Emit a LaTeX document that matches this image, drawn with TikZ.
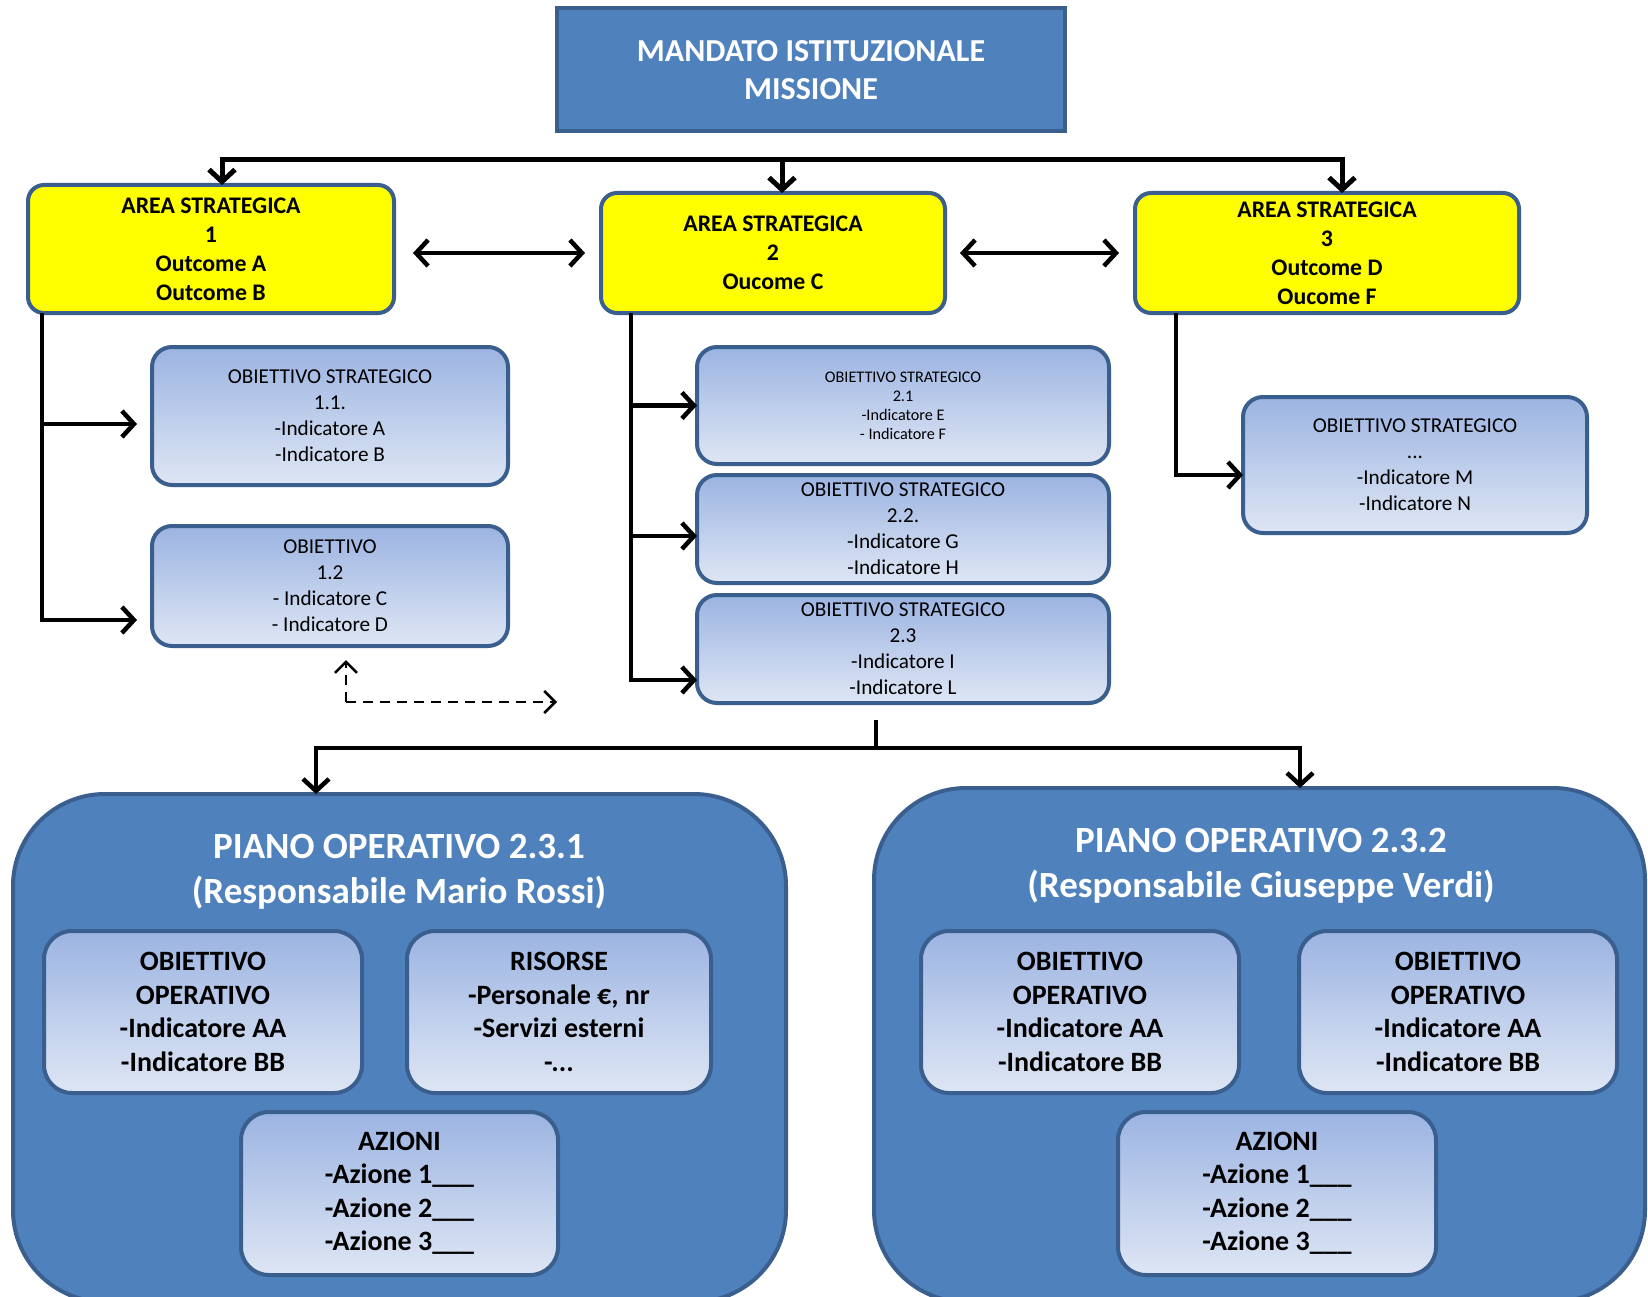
\documentclass[tikz,border=0pt]{standalone}
\usepackage{fontspec}
\setmainfont{Carlito}
\usetikzlibrary{arrows.meta}
\definecolor{mblue}{HTML}{4F81BD}
\definecolor{bord}{HTML}{3A5F8F}
\definecolor{gtop}{HTML}{9CB4E2}
\definecolor{gbot}{HTML}{DEE6F4}
\definecolor{ayellow}{HTML}{FFFF00}
\tikzset{
  box/.style={draw=bord, line width=4pt, inner sep=0pt, outer sep=0pt, align=center, text=black},
  mandbox/.style={box, fill=mblue, text=white, font=\fontsize{32}{38}\selectfont\bfseries},
  areabox/.style={box, fill=ayellow, rounded corners=16pt, font=\fontsize{23.8}{29}\selectfont\bfseries},
  objbox/.style={box, rounded corners=20pt, top color=gtop, bottom color=gbot, font=\fontsize{21.2}{26}\selectfont},
  smallobj/.style={objbox, font=\fontsize{16.2}{19}\selectfont},
  pianobox/.style={box, fill=mblue, rounded corners=92pt},
  ptitle/.style={align=center, text=white, font=\fontsize{37}{45}\selectfont\bfseries},
  inbox/.style={objbox, rounded corners=28pt, font=\fontsize{28}{33.5}\selectfont\bfseries},
  conn/.style={line width=4.5pt, draw=black},
  arr/.style={conn, -{Straight Barb[length=12pt,width=26pt]}},
  darr/.style={conn, {Straight Barb[length=12pt,width=26pt]}-{Straight Barb[length=12pt,width=26pt]}},
  dsh/.style={line width=2.5pt, draw=black, dash pattern=on 10pt off 7pt, -{Straight Barb[length=11pt,width=22pt]}}
}
\begin{document}
\begin{tikzpicture}[x=1pt,y=-1pt]
\useasboundingbox (0,0) rectangle (1648,1297);
\fill[white] (0,0) rectangle (1648,1297);

% top
\node[mandbox, minimum width=508pt, minimum height=123pt] (mand) at (811,70) {MANDATO ISTITUZIONALE\\MISSIONE};

% strategic areas
\node[areabox, minimum width=366pt, minimum height=128pt] (a1) at (211,249) {AREA STRATEGICA\\1\\Outcome A\\Outcome B};
\node[areabox, minimum width=344pt, minimum height=120pt] (a2) at (773,253) {AREA STRATEGICA\\2\\Oucome C};
\node[areabox, minimum width=384pt, minimum height=120pt] (a3) at (1327,253) {AREA STRATEGICA\\3\\Outcome D\\Oucome F};

% strategic objectives
\node[objbox, minimum width=356pt, minimum height=138pt] (o11) at (330,416) {OBIETTIVO STRATEGICO\\1.1.\\-Indicatore A\\-Indicatore B};
\node[objbox, minimum width=356pt, minimum height=120pt] (o12) at (330,586) {OBIETTIVO\\1.2\\- Indicatore C\\- Indicatore D};
\node[smallobj, minimum width=412pt, minimum height=117pt] (o21) at (903,405.5) {OBIETTIVO STRATEGICO\\2.1\\-Indicatore E\\- Indicatore F};
\node[objbox, minimum width=412pt, minimum height=108pt] (o22) at (903,529) {OBIETTIVO STRATEGICO\\2.2.\\-Indicatore G\\-Indicatore H};
\node[objbox, minimum width=412pt, minimum height=108pt] (o23) at (903,649) {OBIETTIVO STRATEGICO\\2.3\\-Indicatore I\\-Indicatore L};
\node[objbox, minimum width=344pt, minimum height=136pt] (oM) at (1415,465) {OBIETTIVO STRATEGICO\\...\\-Indicatore M\\-Indicatore N};

% operative plans
\node[pianobox, minimum width=773pt, minimum height=508pt] (p1) at (399.5,1048) {};
\node[pianobox, minimum width=771pt, minimum height=514pt] (p2) at (1259.5,1045) {};
\node[ptitle] (p1t) at (399,872) {PIANO OPERATIVO 2.3.1\\(Responsabile Mario Rossi)};
\node[ptitle] (p2t) at (1261,866) {PIANO OPERATIVO 2.3.2\\(Responsabile Giuseppe Verdi)};

\node[inbox, minimum width=318pt, minimum height=162pt] (p1o) at (203,1012) {OBIETTIVO\\OPERATIVO\\-Indicatore AA\\-Indicatore BB};
\node[inbox, minimum width=304pt, minimum height=162pt] (p1r) at (559,1012) {RISORSE\\-Personale €, nr\\-Servizi esterni\\-...};
\node[inbox, minimum width=317pt, minimum height=163pt] (p1a) at (399.5,1193.5) {AZIONI\\-Azione 1\_\_\_\\-Azione 2\_\_\_\\-Azione 3\_\_\_};
\node[inbox, minimum width=318pt, minimum height=162pt] (p2o1) at (1080,1012) {OBIETTIVO\\OPERATIVO\\-Indicatore AA\\-Indicatore BB};
\node[inbox, minimum width=318pt, minimum height=162pt] (p2o2) at (1458,1012) {OBIETTIVO\\OPERATIVO\\-Indicatore AA\\-Indicatore BB};
\node[inbox, minimum width=318pt, minimum height=163pt] (p2a) at (1277,1193.5) {AZIONI\\-Azione 1\_\_\_\\-Azione 2\_\_\_\\-Azione 3\_\_\_};

% top distribution
\coordinate (hub) at (782,160);
\draw[arr, line width=5pt] (hub) -| ([xshift=11pt]a1.north);
\draw[arr, line width=5pt] (hub) -| ([xshift=15pt]a3.north);
\draw[arr, line width=5pt] (hub) -- ([xshift=9pt]a2.north);

% double arrows
\draw[darr] ([shift={(19,4)}]a1.east) -- ([xshift=-16pt]a2.west);
\draw[darr] ([xshift=15pt]a2.east) -- ([xshift=-16pt]a3.west);

% left trunk
\coordinate (t1) at ([xshift=14pt]a1.south west);
\coordinate (e11) at ([shift={(-15,8)}]o11.west);
\coordinate (e12) at ([shift={(-15,34)}]o12.west);
\draw[arr] (t1) |- (e12);
\draw[arr] (t1 |- e11) -- (e11);

% middle trunk
\coordinate (t2) at ([xshift=30pt]a2.south west);
\coordinate (e21) at (o21.west);
\coordinate (e22) at ([shift={(0,7)}]o22.west);
\coordinate (e23) at ([shift={(0,31)}]o23.west);
\draw[arr] (t2) |- (e23);
\draw[arr] (t2 |- e21) -- (e21);
\draw[arr] (t2 |- e22) -- (e22);

% right trunk
\coordinate (t3) at ([xshift=41pt]a3.south west);
\coordinate (eM) at ([shift={(0,10)}]oM.west);
\draw[arr] (t3) |- (eM);

% dashed
\coordinate (dc) at (346,702);
\coordinate (du) at (346,660);
\coordinate (dr) at (557,702);
\draw[dsh] (dc) -- (du);
\draw[dsh] (dc) -- (dr);

% bottom distribution
\coordinate (b0) at ([shift={(-27,17)}]o23.south);
\coordinate (b1) at ([shift={(-27,45)}]o23.south);
\draw[conn] (b0) -- (b1);
\draw[arr] (b1) -| ([xshift=-83.5pt]p1.north);
\draw[arr] (b1) -| ([xshift=40.5pt]p2.north);
\end{tikzpicture}
\end{document}
